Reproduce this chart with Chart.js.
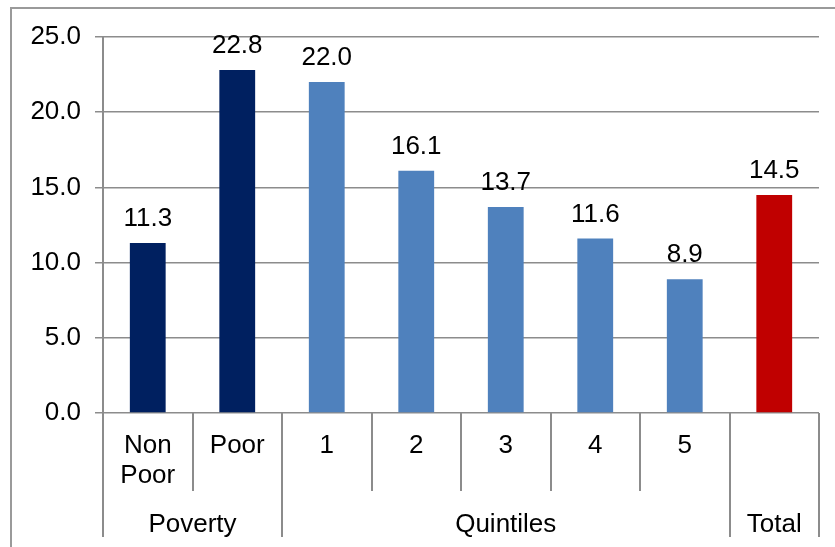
<!DOCTYPE html>
<html>
<head>
<meta charset="utf-8">
<script src="https://cdn.jsdelivr.net/npm/chart.js@4/dist/chart.umd.min.js"></script>
<style>
  html, body { margin: 0; padding: 0; background: #fff; }
  canvas { display: block; }
</style>
</head>
<body>
<canvas id="chart" width="835" height="547"></canvas>
<script>
// categories, grouped into poverty status / quintiles / total
const CATEGORIES = [['Non', 'Poor'], 'Poor', '1', '2', '3', '4', '5', ''];
const VALUES = [11.3, 22.8, 22.0, 16.1, 13.7, 11.6, 8.9, 14.5];
const BAR_COLORS = ['#002060', '#002060', '#4F81BD', '#4F81BD', '#4F81BD', '#4F81BD', '#4F81BD', '#C00000'];
const GROUPS = ['Poverty', 'Quintiles', 'Total'];
const GROUP_SPANS = [2, 5, 1];
const Y_TICKS = [0, 5, 10, 15, 20, 25];

const FONT = '"Liberation Sans", Arial, sans-serif';
const FONT_SIZE = 26;
const LINE = '#8c8c8c';

/* value labels above each bar */
const valueLabels = {
  id: 'valueLabels',
  afterDatasetsDraw(chart) {
    const ctx = chart.ctx;
    const meta = chart.getDatasetMeta(0);
    ctx.save();
    ctx.font = FONT_SIZE + 'px ' + FONT;
    ctx.fillStyle = '#000';
    ctx.textAlign = 'center';
    ctx.textBaseline = 'alphabetic';
    meta.data.forEach((bar, i) => {
      ctx.fillText(VALUES[i].toFixed(1), bar.x, bar.y - 17);
    });
    ctx.restore();
  },
};

/* category dividers + group row under the x axis, plus the outer frame */
const groupAxis = {
  id: 'groupAxis',
  afterDraw(chart) {
    const ctx = chart.ctx;
    const x = chart.scales.x;
    const area = chart.chartArea;
    const step = x.getPixelForValue(1) - x.getPixelForValue(0);
    const edge = (i) => x.getPixelForValue(0) - step / 2 + i * step;

    const groupEdges = [0];
    GROUP_SPANS.forEach((s) => groupEdges.push(groupEdges[groupEdges.length - 1] + s));

    ctx.save();
    ctx.strokeStyle = LINE;
    ctx.lineWidth = 2;
    for (let i = 0; i <= CATEGORIES.length; i++) {
      const px = Math.round(edge(i));
      const long = groupEdges.includes(i);
      ctx.beginPath();
      ctx.moveTo(px, area.bottom);
      ctx.lineTo(px, area.bottom + (long ? 124 : 78));
      ctx.stroke();
    }

    ctx.font = FONT_SIZE + 'px ' + FONT;
    ctx.fillStyle = '#000';
    ctx.textAlign = 'center';
    ctx.textBaseline = 'middle';
    GROUPS.forEach((g, k) => {
      const cx = (edge(groupEdges[k]) + edge(groupEdges[k + 1])) / 2;
      ctx.fillText(g, cx, area.bottom + 112);
    });

    // chart frame (left and top edges)
    ctx.strokeStyle = '#9a9a9a';
    ctx.beginPath();
    ctx.moveTo(11, chart.height);
    ctx.lineTo(11, 8);
    ctx.lineTo(chart.width, 8);
    ctx.stroke();
    ctx.restore();
  },
};

new Chart(document.getElementById('chart'), {
  type: 'bar',
  data: {
    labels: CATEGORIES,
    datasets: [{
      data: VALUES,
      backgroundColor: BAR_COLORS,
      barPercentage: 0.4,
      categoryPercentage: 1.0,
    }],
  },
  options: {
    responsive: false,
    animation: false,
    layout: { padding: { left: 0, top: 37, right: 16, bottom: 0 } },
    plugins: {
      legend: { display: false },
      tooltip: { enabled: false },
    },
    scales: {
      x: {
        grid: { display: false, drawTicks: false },
        border: { display: false },
        ticks: {
          color: '#000',
          font: { family: FONT, size: FONT_SIZE, lineHeight: 1.15 },
          padding: 18,
          maxRotation: 0,
          autoSkip: false,
        },
        afterFit(scale) { scale.height = 134; },
      },
      y: {
        min: 0,
        max: 25,
        afterBuildTicks(scale) { scale.ticks = Y_TICKS.map((v) => ({ value: v })); },
        grid: { color: LINE, lineWidth: 1.5, tickLength: 8 },
        border: { color: LINE, width: 2 },
        ticks: {
          color: '#000',
          font: { family: FONT, size: FONT_SIZE },
          padding: 14,
          callback: (v) => v.toFixed(1),
        },
        afterFit(scale) { scale.width = 103; },
      },
    },
  },
  plugins: [valueLabels, groupAxis],
});
</script>
</body>
</html>
